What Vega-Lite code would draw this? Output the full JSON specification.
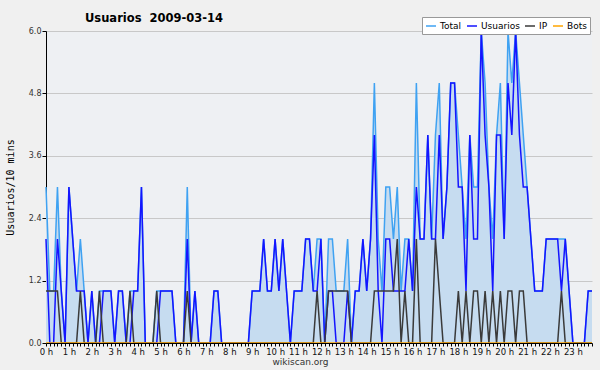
{
  "$schema": "https://vega.github.io/schema/vega-lite/v6.json",
  "width": 546,
  "height": 312,
  "autosize": {"type": "none"},
  "padding": {"left": 46, "top": 31, "right": 8, "bottom": 27},
  "background": "#f0f0f0",
  "title": {"text": "Usuarios\u00a0\u00a02009-03-14", "frame": "group", "anchor": "start", "dx": 39, "dy": 26, "offset": 9, "baseline": "alphabetic", "font": "DejaVu Sans", "fontSize": 11.5, "fontWeight": "bold", "color": "#000000"},
  "config": {
    "view": {"stroke": null, "fill": "#eef0f3"},
    "legend": {"orient": "none", "legendX": 376, "legendY": -14, "direction": "horizontal", "gridAlign": "none", "symbolType": "stroke", "symbolSize": 100, "symbolStrokeWidth": 1.5, "labelFont": "DejaVu Sans", "labelFontSize": 9, "labelColor": "#000000", "fillColor": "#ffffff", "strokeColor": "#999999", "padding": 3, "columnPadding": 2, "labelOffset": 3, "rowPadding": 0}
  },
  "data": {"values": [
    {"t":0,"Total":3,"Usuarios":2,"IP":1,"Bots":0},
    {"t":10,"Total":1,"Usuarios":0,"IP":1,"Bots":0},
    {"t":20,"Total":1,"Usuarios":0,"IP":1,"Bots":0},
    {"t":30,"Total":3,"Usuarios":2,"IP":1,"Bots":0},
    {"t":40,"Total":1,"Usuarios":1,"IP":0,"Bots":0},
    {"t":50,"Total":0,"Usuarios":0,"IP":0,"Bots":0},
    {"t":60,"Total":3,"Usuarios":3,"IP":0,"Bots":0},
    {"t":70,"Total":2,"Usuarios":2,"IP":0,"Bots":0},
    {"t":80,"Total":1,"Usuarios":1,"IP":0,"Bots":0},
    {"t":90,"Total":2,"Usuarios":1,"IP":1,"Bots":0},
    {"t":100,"Total":1,"Usuarios":1,"IP":0,"Bots":0},
    {"t":110,"Total":0,"Usuarios":0,"IP":0,"Bots":0},
    {"t":120,"Total":1,"Usuarios":1,"IP":0,"Bots":0},
    {"t":130,"Total":0,"Usuarios":0,"IP":0,"Bots":0},
    {"t":140,"Total":1,"Usuarios":0,"IP":1,"Bots":0},
    {"t":150,"Total":1,"Usuarios":1,"IP":0,"Bots":0},
    {"t":160,"Total":1,"Usuarios":1,"IP":0,"Bots":0},
    {"t":170,"Total":1,"Usuarios":1,"IP":0,"Bots":0},
    {"t":180,"Total":0,"Usuarios":0,"IP":0,"Bots":0},
    {"t":190,"Total":1,"Usuarios":1,"IP":0,"Bots":0},
    {"t":200,"Total":1,"Usuarios":1,"IP":0,"Bots":0},
    {"t":210,"Total":0,"Usuarios":0,"IP":0,"Bots":0},
    {"t":220,"Total":1,"Usuarios":0,"IP":1,"Bots":0},
    {"t":230,"Total":1,"Usuarios":1,"IP":0,"Bots":0},
    {"t":240,"Total":1,"Usuarios":1,"IP":0,"Bots":0},
    {"t":250,"Total":3,"Usuarios":3,"IP":0,"Bots":0},
    {"t":260,"Total":0,"Usuarios":0,"IP":0,"Bots":0},
    {"t":270,"Total":0,"Usuarios":0,"IP":0,"Bots":0},
    {"t":280,"Total":0,"Usuarios":0,"IP":0,"Bots":0},
    {"t":290,"Total":1,"Usuarios":0,"IP":1,"Bots":0},
    {"t":300,"Total":1,"Usuarios":1,"IP":0,"Bots":0},
    {"t":310,"Total":1,"Usuarios":1,"IP":0,"Bots":0},
    {"t":320,"Total":1,"Usuarios":1,"IP":0,"Bots":0},
    {"t":330,"Total":1,"Usuarios":1,"IP":0,"Bots":0},
    {"t":340,"Total":0,"Usuarios":0,"IP":0,"Bots":0},
    {"t":350,"Total":0,"Usuarios":0,"IP":0,"Bots":0},
    {"t":360,"Total":0,"Usuarios":0,"IP":0,"Bots":0},
    {"t":370,"Total":3,"Usuarios":2,"IP":1,"Bots":0},
    {"t":380,"Total":0,"Usuarios":0,"IP":0,"Bots":0},
    {"t":390,"Total":1,"Usuarios":1,"IP":0,"Bots":0},
    {"t":400,"Total":0,"Usuarios":0,"IP":0,"Bots":0},
    {"t":410,"Total":0,"Usuarios":0,"IP":0,"Bots":0},
    {"t":420,"Total":0,"Usuarios":0,"IP":0,"Bots":0},
    {"t":430,"Total":0,"Usuarios":0,"IP":0,"Bots":0},
    {"t":440,"Total":1,"Usuarios":1,"IP":0,"Bots":0},
    {"t":450,"Total":1,"Usuarios":1,"IP":0,"Bots":0},
    {"t":460,"Total":0,"Usuarios":0,"IP":0,"Bots":0},
    {"t":470,"Total":0,"Usuarios":0,"IP":0,"Bots":0},
    {"t":480,"Total":0,"Usuarios":0,"IP":0,"Bots":0},
    {"t":490,"Total":0,"Usuarios":0,"IP":0,"Bots":0},
    {"t":500,"Total":0,"Usuarios":0,"IP":0,"Bots":0},
    {"t":510,"Total":0,"Usuarios":0,"IP":0,"Bots":0},
    {"t":520,"Total":0,"Usuarios":0,"IP":0,"Bots":0},
    {"t":530,"Total":0,"Usuarios":0,"IP":0,"Bots":0},
    {"t":540,"Total":1,"Usuarios":1,"IP":0,"Bots":0},
    {"t":550,"Total":1,"Usuarios":1,"IP":0,"Bots":0},
    {"t":560,"Total":1,"Usuarios":1,"IP":0,"Bots":0},
    {"t":570,"Total":2,"Usuarios":2,"IP":0,"Bots":0},
    {"t":580,"Total":1,"Usuarios":1,"IP":0,"Bots":0},
    {"t":590,"Total":1,"Usuarios":1,"IP":0,"Bots":0},
    {"t":600,"Total":2,"Usuarios":2,"IP":0,"Bots":0},
    {"t":610,"Total":1,"Usuarios":1,"IP":0,"Bots":0},
    {"t":620,"Total":2,"Usuarios":2,"IP":0,"Bots":0},
    {"t":630,"Total":1,"Usuarios":1,"IP":0,"Bots":0},
    {"t":640,"Total":0,"Usuarios":0,"IP":0,"Bots":0},
    {"t":650,"Total":1,"Usuarios":1,"IP":0,"Bots":0},
    {"t":660,"Total":1,"Usuarios":1,"IP":0,"Bots":0},
    {"t":670,"Total":1,"Usuarios":1,"IP":0,"Bots":0},
    {"t":680,"Total":2,"Usuarios":2,"IP":0,"Bots":0},
    {"t":690,"Total":2,"Usuarios":2,"IP":0,"Bots":0},
    {"t":700,"Total":1,"Usuarios":1,"IP":0,"Bots":0},
    {"t":710,"Total":2,"Usuarios":1,"IP":1,"Bots":0},
    {"t":720,"Total":2,"Usuarios":2,"IP":0,"Bots":0},
    {"t":730,"Total":0,"Usuarios":0,"IP":0,"Bots":0},
    {"t":740,"Total":2,"Usuarios":1,"IP":1,"Bots":0},
    {"t":750,"Total":2,"Usuarios":1,"IP":1,"Bots":0},
    {"t":760,"Total":1,"Usuarios":0,"IP":1,"Bots":0},
    {"t":770,"Total":1,"Usuarios":0,"IP":1,"Bots":0},
    {"t":780,"Total":1,"Usuarios":0,"IP":1,"Bots":0},
    {"t":790,"Total":2,"Usuarios":1,"IP":1,"Bots":0},
    {"t":800,"Total":0,"Usuarios":0,"IP":0,"Bots":0},
    {"t":810,"Total":1,"Usuarios":1,"IP":0,"Bots":0},
    {"t":820,"Total":1,"Usuarios":1,"IP":0,"Bots":0},
    {"t":830,"Total":2,"Usuarios":2,"IP":0,"Bots":0},
    {"t":840,"Total":1,"Usuarios":1,"IP":0,"Bots":0},
    {"t":850,"Total":2,"Usuarios":2,"IP":0,"Bots":0},
    {"t":860,"Total":5,"Usuarios":4,"IP":1,"Bots":0},
    {"t":870,"Total":2,"Usuarios":1,"IP":1,"Bots":0},
    {"t":880,"Total":1,"Usuarios":0,"IP":1,"Bots":0},
    {"t":890,"Total":3,"Usuarios":2,"IP":1,"Bots":0},
    {"t":900,"Total":3,"Usuarios":2,"IP":1,"Bots":0},
    {"t":910,"Total":2,"Usuarios":1,"IP":1,"Bots":0},
    {"t":920,"Total":3,"Usuarios":1,"IP":2,"Bots":0},
    {"t":930,"Total":1,"Usuarios":1,"IP":0,"Bots":0},
    {"t":940,"Total":2,"Usuarios":1,"IP":1,"Bots":0},
    {"t":950,"Total":2,"Usuarios":2,"IP":0,"Bots":0},
    {"t":960,"Total":1,"Usuarios":1,"IP":0,"Bots":0},
    {"t":970,"Total":5,"Usuarios":3,"IP":2,"Bots":0},
    {"t":980,"Total":2,"Usuarios":2,"IP":0,"Bots":0},
    {"t":990,"Total":2,"Usuarios":2,"IP":0,"Bots":0},
    {"t":1000,"Total":4,"Usuarios":4,"IP":0,"Bots":0},
    {"t":1010,"Total":2,"Usuarios":2,"IP":0,"Bots":0},
    {"t":1020,"Total":4,"Usuarios":2,"IP":2,"Bots":0},
    {"t":1030,"Total":5,"Usuarios":4,"IP":1,"Bots":0},
    {"t":1040,"Total":2,"Usuarios":2,"IP":0,"Bots":0},
    {"t":1050,"Total":3,"Usuarios":3,"IP":0,"Bots":0},
    {"t":1060,"Total":5,"Usuarios":5,"IP":0,"Bots":0},
    {"t":1070,"Total":5,"Usuarios":5,"IP":0,"Bots":0},
    {"t":1080,"Total":4,"Usuarios":3,"IP":1,"Bots":0},
    {"t":1090,"Total":3,"Usuarios":3,"IP":0,"Bots":0},
    {"t":1100,"Total":2,"Usuarios":1,"IP":1,"Bots":0},
    {"t":1110,"Total":4,"Usuarios":4,"IP":0,"Bots":0},
    {"t":1120,"Total":3,"Usuarios":2,"IP":1,"Bots":0},
    {"t":1130,"Total":3,"Usuarios":2,"IP":1,"Bots":0},
    {"t":1140,"Total":6,"Usuarios":6,"IP":0,"Bots":0},
    {"t":1150,"Total":5,"Usuarios":4,"IP":1,"Bots":0},
    {"t":1160,"Total":3,"Usuarios":3,"IP":0,"Bots":0},
    {"t":1170,"Total":2,"Usuarios":1,"IP":1,"Bots":0},
    {"t":1180,"Total":4,"Usuarios":4,"IP":0,"Bots":0},
    {"t":1190,"Total":5,"Usuarios":4,"IP":1,"Bots":0},
    {"t":1200,"Total":2,"Usuarios":2,"IP":0,"Bots":0},
    {"t":1210,"Total":6,"Usuarios":5,"IP":1,"Bots":0},
    {"t":1220,"Total":5,"Usuarios":4,"IP":1,"Bots":0},
    {"t":1230,"Total":6,"Usuarios":6,"IP":0,"Bots":0},
    {"t":1240,"Total":5,"Usuarios":4,"IP":1,"Bots":0},
    {"t":1250,"Total":4,"Usuarios":3,"IP":1,"Bots":0},
    {"t":1260,"Total":3,"Usuarios":3,"IP":0,"Bots":0},
    {"t":1270,"Total":2,"Usuarios":2,"IP":0,"Bots":0},
    {"t":1280,"Total":1,"Usuarios":1,"IP":0,"Bots":0},
    {"t":1290,"Total":1,"Usuarios":1,"IP":0,"Bots":0},
    {"t":1300,"Total":1,"Usuarios":1,"IP":0,"Bots":0},
    {"t":1310,"Total":2,"Usuarios":2,"IP":0,"Bots":0},
    {"t":1320,"Total":2,"Usuarios":2,"IP":0,"Bots":0},
    {"t":1330,"Total":2,"Usuarios":2,"IP":0,"Bots":0},
    {"t":1340,"Total":2,"Usuarios":2,"IP":0,"Bots":0},
    {"t":1350,"Total":2,"Usuarios":1,"IP":1,"Bots":0},
    {"t":1360,"Total":2,"Usuarios":2,"IP":0,"Bots":0},
    {"t":1370,"Total":1,"Usuarios":1,"IP":0,"Bots":0},
    {"t":1380,"Total":0,"Usuarios":0,"IP":0,"Bots":0},
    {"t":1390,"Total":0,"Usuarios":0,"IP":0,"Bots":0},
    {"t":1400,"Total":0,"Usuarios":0,"IP":0,"Bots":0},
    {"t":1410,"Total":0,"Usuarios":0,"IP":0,"Bots":0},
    {"t":1420,"Total":1,"Usuarios":1,"IP":0,"Bots":0},
    {"t":1430,"Total":1,"Usuarios":1,"IP":0,"Bots":0}
  ]},
  "encoding": {
    "x": {
      "field": "t",
      "type": "quantitative",
      "scale": {"domain": [0, 1430], "nice": false, "zero": false},
      "axis": {
        "title": "wikiscan.org",
        "values": [0,10,20,30,40,50,60,70,80,90,100,110,120,130,140,150,160,170,180,190,200,210,220,230,240,250,260,270,280,290,300,310,320,330,340,350,360,370,380,390,400,410,420,430,440,450,460,470,480,490,500,510,520,530,540,550,560,570,580,590,600,610,620,630,640,650,660,670,680,690,700,710,720,730,740,750,760,770,780,790,800,810,820,830,840,850,860,870,880,890,900,910,920,930,940,950,960,970,980,990,1000,1010,1020,1030,1040,1050,1060,1070,1080,1090,1100,1110,1120,1130,1140,1150,1160,1170,1180,1190,1200,1210,1220,1230,1240,1250,1260,1270,1280,1290,1300,1310,1320,1330,1340,1350,1360,1370,1380,1390,1400,1410,1420,1430],
        "labelExpr": "datum.value % 60 == 0 ? (datum.value / 60) + ' h' : ''",
        "labelOverlap": false,
        "labelFlush": false,
        "labelFont": "DejaVu Sans",
        "labelFontSize": 8.5,
        "labelColor": "#111111",
        "labelPadding": 1,
        "tickSize": 3,
        "tickColor": "#000000",
        "domainColor": "#000000",
        "grid": false,
        "zindex": 1,
        "titleFont": "DejaVu Sans",
        "titleFontSize": 9,
        "titleFontWeight": "normal",
        "titleColor": "#333333",
        "titlePadding": 2,
        "titleX": 254,
        "titleAlign": "center"
      }
    }
  },
  "layer": [
    {
      "mark": {"type": "area", "color": "#c6dcf0", "opacity": 1},
      "encoding": {
        "y": {
          "field": "Total",
          "type": "quantitative",
          "scale": {"domain": [0, 6], "nice": false},
          "title": "Usuarios/10 mins",
          "axis": {
            "values": [0,0.3,0.6,0.9,1.2,1.5,1.8,2.1,2.4,2.7,3,3.3,3.6,3.9,4.2,4.5,4.8,5.1,5.4,5.7,6],
            "labelExpr": "abs(datum.value / 1.2 - round(datum.value / 1.2)) < 0.01 ? format(datum.value, '.1f') : ''",
            "labelOverlap": false,
            "labelFlush": false,
            "labelFont": "DejaVu Sans",
            "labelFontSize": 8,
            "labelColor": "#333333",
            "labelPadding": 1,
            "tickSize": 4,
            "tickColor": "#000000",
            "domainColor": "#000000",
            "grid": true,
            "gridColor": "#c8c8c8",
            "gridOpacity": {"condition": {"test": "abs(datum.value / 1.2 - round(datum.value / 1.2)) < 0.01", "value": 1}, "value": 0},
            "titleFont": "DejaVu Sans Mono",
            "titleFontSize": 10,
            "titleFontWeight": "normal",
            "titleColor": "#000000",
            "titlePadding": 13
          }
        }
      }
    },
    {
      "transform": [{"fold": ["Total", "Usuarios", "IP", "Bots"], "as": ["serie", "valor"]}],
      "mark": {"type": "line", "strokeWidth": 1.5},
      "encoding": {
        "y": {"field": "valor", "type": "quantitative", "title": "Usuarios/10 mins"},
        "color": {
          "field": "serie",
          "type": "nominal",
          "scale": {"domain": ["Total", "Usuarios", "IP", "Bots"], "range": ["#3fa2f2", "#1414ff", "#3a3a3a", "#ffa500"]},
          "legend": {"title": null}
        }
      }
    },
    {
      "data": {"values": [{"label": "CC BY-SA 3.0"}]},
      "mark": {"type": "text", "align": "right", "baseline": "middle", "dy": 19, "font": "DejaVu Sans", "fontSize": 6.5, "color": "#333333"},
      "encoding": {
        "x": {"datum": 1430},
        "y": {"datum": 0},
        "text": {"field": "label"}
      }
    }
  ]
}
